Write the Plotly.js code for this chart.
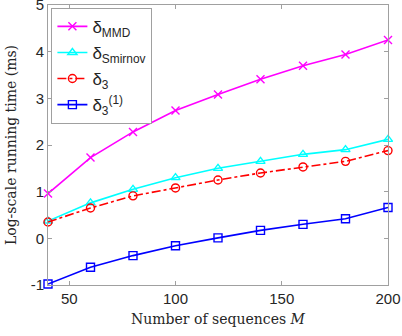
<!DOCTYPE html>
<html>
<head>
<meta charset="utf-8">
<script src="https://cdn.plot.ly/plotly-3.0.1.min.js"></script>
<style>html,body{margin:0;padding:0;background:#fff;}#chart{width:402px;height:336px;}</style>
</head>
<body>
<div id="chart"></div>
<script>
const M = [40, 60, 80, 100, 120, 140, 160, 180, 200];
const deltaMMD = [0.96, 1.73, 2.28, 2.74, 3.08, 3.41, 3.70, 3.94, 4.25];
const deltaSmirnov = [0.37, 0.76, 1.05, 1.30, 1.50, 1.65, 1.80, 1.90, 2.12];
const delta3 = [0.35, 0.65, 0.91, 1.08, 1.25, 1.40, 1.53, 1.65, 1.88];
const delta3one = [-0.98, -0.62, -0.37, -0.16, 0.01, 0.17, 0.30, 0.42, 0.66];
const names = ['δ<sub>MMD</sub>', 'δ<sub>Smirnov</sub>', 'δ<sub>3</sub>', 'δ<sub>3</sub><sup>(1)</sup>'];
const yTickVals = [-1, 0, 1, 2, 3, 4, 5];
const yTickText = ['-1', '0', '1', '2', '3', '4', '5'];
const xTickVals = [50, 100, 150, 200];

function tr(y, name, color, symbol, dash, grp) {
  return {
    x: M, y: y, name: name, type: 'scatter', mode: 'lines+markers',
    legendgroup: grp,
    line: {color: color, width: 1.6, dash: dash},
    marker: {symbol: symbol, size: 8, color: color, line: {color: color, width: 1.4}},
    cliponaxis: false
  };
}
const data = [
  tr(deltaMMD, names[0], '#ff00ff', 'x-thin-open', 'solid', 'a'),
  tr(deltaSmirnov, names[1], '#00ffff', 'triangle-up-open', 'solid', 'b'),
  tr(delta3, names[2], '#ff0000', 'circle-open', 'dashdot', 'c'),
  tr(delta3one, names[3], '#0000ff', 'square-open', 'solid', 'd')
];
const axisCommon = {
  showgrid: false, zeroline: false, showline: true, mirror: 'ticks',
  linecolor: '#a0a0a0', linewidth: 1, ticks: 'inside', ticklen: 4, tickcolor: '#a0a0a0',
  ticklabeloverflow: 'allow',
  tickfont: {family: 'Liberation Sans, Arial, sans-serif', size: 15, color: '#262626'}
};
const layout = {
  width: 402, height: 336,
  margin: {l: 48, r: 14, t: 5, b: 51},
  paper_bgcolor: '#fff', plot_bgcolor: '#fff',
  showlegend: true,
  legend: {
    x: 0.01, y: 0.99, xanchor: 'left', yanchor: 'top',
    bgcolor: '#fff', bordercolor: '#a0a0a0', borderwidth: 1,
    font: {family: 'Liberation Sans, Arial, sans-serif', size: 17, color: '#262626'},
    itemwidth: 30, tracegroupgap: 1
  },
  xaxis: Object.assign({}, axisCommon, {
    range: [40, 200], tickvals: xTickVals,
    title: {text: 'Number of sequences <i>M</i>', standoff: 8,
      font: {family: 'DejaVu Serif, Liberation Serif, serif', size: 14, color: '#262626'}}
  }),
  yaxis: Object.assign({}, axisCommon, {
    range: [-1, 5], tickvals: yTickVals, ticktext: yTickText,
    title: {text: 'Log-scale running time (ms)', standoff: 10,
      font: {family: 'DejaVu Serif, Liberation Serif, serif', size: 14, color: '#262626'}}
  })
};
Plotly.newPlot('chart', data, layout, {displayModeBar: false, staticPlot: true});
</script>
</body>
</html>
